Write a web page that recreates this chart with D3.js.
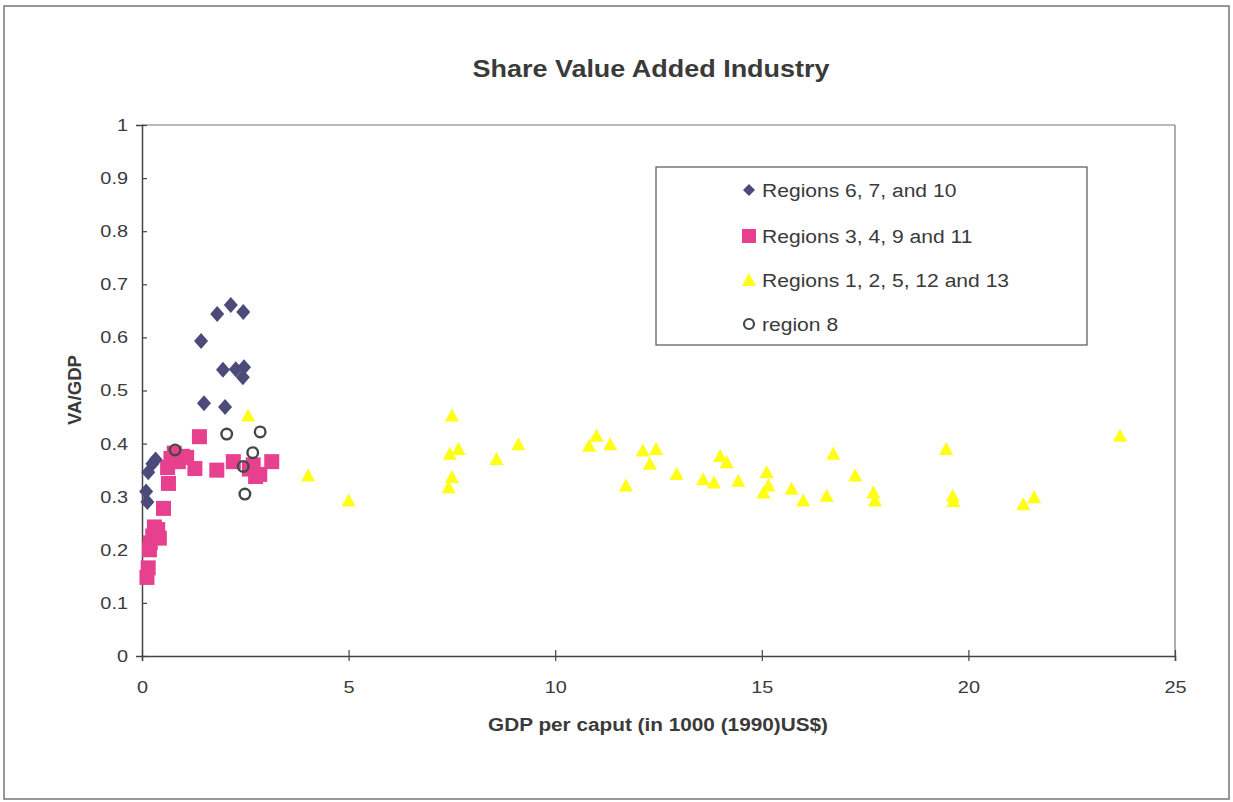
<!DOCTYPE html>
<html><head><meta charset="utf-8">
<script src="https://cdn.jsdelivr.net/npm/d3@7"></script>
<style>
body{margin:0;background:#fff;}
text{font-family:"Liberation Sans",Arial,sans-serif;fill:#3a3a3a;}
</style></head><body>
<svg id="chart" width="1233" height="802"></svg>
<script>
const title = "Share Value Added Industry";
const xLabel = "GDP per caput (in 1000 (1990)US$)";
const yLabel = "VA/GDP";
const xTicks = [0,5,10,15,20,25];
const yTicks = [0,0.1,0.2,0.3,0.4,0.5,0.6,0.7,0.8,0.9,1];
const seriesNames = ["Regions 6, 7, and 10","Regions 3, 4, 9 and 11","Regions 1, 2, 5, 12 and 13","region 8"];

const diamonds = [
  [1.82,0.644],[2.15,0.661],[2.45,0.648],[1.43,0.593],[1.96,0.539],[2.27,0.540],
  [2.47,0.544],[2.44,0.525],[1.50,0.476],[2.01,0.469],
  [0.15,0.346],[0.25,0.362],[0.33,0.37],[0.10,0.31],[0.13,0.29]
];
const squares = [
  [0.12,0.148],[0.15,0.166],[0.18,0.20],[0.20,0.213],[0.26,0.226],[0.30,0.243],[0.38,0.238],
  [0.42,0.222],[0.52,0.278],[0.64,0.325],[0.62,0.355],[0.70,0.372],[0.78,0.382],[0.88,0.366],
  [0.98,0.376],[1.08,0.374],[1.28,0.353],[1.39,0.413],[1.81,0.350],[2.21,0.366],
  [2.60,0.352],[2.69,0.360],[2.75,0.338],[2.85,0.342],[3.14,0.366]
];
const triangles = [
  [2.57,0.451],[4.02,0.338],[5.0,0.291],[7.50,0.451],[7.66,0.388],[7.45,0.379],[7.50,0.335],
  [7.42,0.316],[8.58,0.369],[9.11,0.397],[11.0,0.413],[10.82,0.394],[11.33,0.397],[11.71,0.319],
  [12.12,0.385],[12.44,0.388],[12.29,0.36],[12.94,0.341],[13.58,0.331],[13.84,0.325],[13.99,0.375],
  [14.15,0.363],[14.43,0.328],[15.12,0.344],[15.16,0.319],[15.04,0.306],[15.72,0.313],[16.0,0.291],
  [16.57,0.300],[16.73,0.379],[17.26,0.338],[17.70,0.306],[17.74,0.291],[19.46,0.388],[19.62,0.300],
  [19.64,0.290],[21.33,0.284],[21.59,0.297],[23.67,0.413]
];
const circles = [
  [2.05,0.418],[2.86,0.422],[0.80,0.388],[2.68,0.383],[2.45,0.357],[2.49,0.305]
];

const svg = d3.select("#chart");
const x = d3.scaleLinear().domain([0,25]).range([142,1175]);
const y = d3.scaleLinear().domain([0,1]).range([656,125]);
const stretch = sel => sel.each(function(){
  const w = this.getComputedTextLength();
  d3.select(this).attr("textLength", w*1.17).attr("lengthAdjust","spacingAndGlyphs");
});

// outer border
svg.append("rect").attr("x",4).attr("y",6).attr("width",1225).attr("height",793)
  .attr("fill","none").attr("stroke","#777").attr("stroke-width",1.5);

// title
svg.append("text").attr("x",651).attr("y",77).attr("text-anchor","middle")
  .attr("font-size",23).attr("font-weight","bold").attr("fill","#444")
  .attr("textLength",357).attr("lengthAdjust","spacingAndGlyphs").text(title);

// plot frame (top & right)
svg.append("line").attr("x1",x(0)).attr("x2",x(25)).attr("y1",y(1)).attr("y2",y(1)).attr("stroke","#777").attr("stroke-width",1.2);
svg.append("line").attr("x1",x(25)).attr("x2",x(25)).attr("y1",y(1)).attr("y2",y(0)).attr("stroke","#777").attr("stroke-width",1.2);

// axes
const yAxis = svg.append("g").attr("transform",`translate(${x(0)},0)`)
  .call(d3.axisLeft(y).tickValues(yTicks).tickFormat(d=>String(+d.toFixed(1))).tickSize(6).tickPadding(8));
yAxis.selectAll(".tick line").attr("x2",5);
const xAxis = svg.append("g").attr("transform",`translate(0,${y(0)})`)
  .call(d3.axisBottom(x).tickValues(xTicks).tickFormat(d3.format("d")).tickSize(5).tickPadding(20));
xAxis.selectAll(".tick line").attr("y1",-6);
[yAxis,xAxis].forEach(a=>{
  a.select(".domain").attr("stroke","#444").attr("stroke-width",1.5);
  a.selectAll(".tick line").attr("stroke","#444").attr("stroke-width",1.2);
  a.selectAll(".tick text").attr("font-size",17).attr("fill","#555").attr("font-family","Liberation Sans, Arial, sans-serif");
});
yAxis.selectAll(".tick text").call(stretch);
xAxis.selectAll(".tick text").call(stretch);

// axis labels
svg.append("text").attr("x",658).attr("y",731).attr("text-anchor","middle")
  .attr("font-size",18).attr("font-weight","bold").attr("fill","#444")
  .attr("textLength",340).attr("lengthAdjust","spacingAndGlyphs").text(xLabel);
svg.append("text").attr("transform","translate(81,390) rotate(-90)").attr("text-anchor","middle")
  .attr("font-size",18).attr("font-weight","bold").attr("fill","#444")
  .attr("textLength",70).attr("lengthAdjust","spacingAndGlyphs").text(yLabel);

const diamondColor = "#4b4a7a", squareColor = "#e6408e", triColor = "#ffff14", circColor = "#3f4a44";
const diamondPath = "M0,-8L7,0L0,8L-7,0Z";

// squares
svg.append("g").selectAll("rect").data(squares).join("rect")
  .attr("x",d=>x(d[0])-7.5).attr("y",d=>y(d[1])-7.5).attr("width",15).attr("height",15)
  .attr("fill",squareColor);
// diamonds
svg.append("g").selectAll("path").data(diamonds).join("path")
  .attr("d",diamondPath).attr("transform",d=>`translate(${x(d[0])},${y(d[1])})`)
  .attr("fill",diamondColor);
// triangles
svg.append("g").selectAll("path").data(triangles).join("path")
  .attr("d","M0,-8L7,5L-7,5Z").attr("transform",d=>`translate(${x(d[0])},${y(d[1])})`)
  .attr("fill",triColor);
// circles
svg.append("g").selectAll("circle").data(circles).join("circle")
  .attr("cx",d=>x(d[0])).attr("cy",d=>y(d[1])).attr("r",5.3)
  .attr("fill","none").attr("stroke",circColor).attr("stroke-width",2.4);

// legend
const lg = svg.append("g");
lg.append("rect").attr("x",656).attr("y",167).attr("width",431).attr("height",178)
  .attr("fill","#fff").attr("stroke","#555").attr("stroke-width",1.2);
const rows = [190,236,280,324];
const mx = 749;
lg.append("path").attr("d","M0,-6L6,0L0,6L-6,0Z").attr("transform",`translate(${mx},${rows[0]})`).attr("fill",diamondColor);
lg.append("rect").attr("x",mx-7).attr("y",rows[1]-7).attr("width",14).attr("height",14).attr("fill",squareColor);
lg.append("path").attr("d","M0,-7L7,6L-7,6Z").attr("transform",`translate(${mx},${rows[2]})`).attr("fill",triColor);
lg.append("circle").attr("cx",mx).attr("cy",rows[3]).attr("r",5).attr("fill","none").attr("stroke",circColor).attr("stroke-width",2.2);
lg.selectAll("text.l").data(seriesNames).join("text").attr("class","l")
  .attr("x",762).attr("y",(d,i)=>rows[i]+7).attr("font-size",18).attr("fill","#444").text(d=>d)
  .call(stretch);
</script>
</body></html>
